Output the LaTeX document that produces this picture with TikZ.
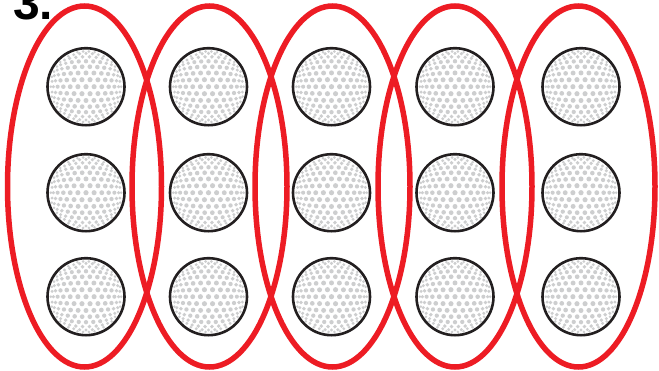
\documentclass[tikz,border=0pt]{standalone}
\usepackage{fontspec}
\setmainfont{Liberation Sans}
\definecolor{ellred}{HTML}{ED1C24}
\definecolor{balledge}{HTML}{231F20}
\definecolor{dimple}{HTML}{CDCECF}
\tikzset{
  ellipsering/.style={draw=ellred, line width=5.5pt},
  ballrim/.style={draw=balledge, line width=2.6pt},
  pics/golfball/.style={code={
    \fill[white] (0,0) circle[radius=38.5];
    \foreach \j in {-8,...,8}{
      \foreach \i in {-8,...,8}{
        \pgfmathsetmacro{\aa}{(\i+0.5*mod(abs(\j),2))*13}
        \pgfmathsetmacro{\bb}{\j*13*0.866}
        \pgfmathsetmacro{\rr}{veclen(\aa,\bb)}
        \ifdim \rr pt<84pt
          \pgfmathsetmacro{\ff}{36*sin(\rr)/max(\rr,0.001)}
          \pgfmathsetmacro{\ss}{2.6*(0.45+0.55*cos(\rr))}
          \fill[dimple] ({\aa*\ff},{\bb*\ff}) circle[radius=\ss];
        \fi
      }
    }
    \draw[ballrim] (0,0) circle[radius=38.5];
  }}
}
\begin{document}
\begin{tikzpicture}[x=1pt,y=-1pt]
  \useasboundingbox (0,0) rectangle (659,370);
  \fill[white] (0,0) rectangle (659,370);
  \foreach \cx in {86,208.5,331.5,455,581}{
    \foreach \cy in {86.7,192.7,296.7}{
      \pic at (\cx,\cy) {golfball};
    }
  }
  \draw[ellipsering] (84.5,186.5) ellipse[x radius=77, y radius=180.5];
  \draw[ellipsering] (209.5,186.5) ellipse[x radius=77.5, y radius=180.5];
  \draw[ellipsering] (332.5,186.5) ellipse[x radius=77.5, y radius=180.5];
  \draw[ellipsering] (455,186.5) ellipse[x radius=77, y radius=180.5];
  \draw[ellipsering] (578.5,186.5) ellipse[x radius=76.5, y radius=180.5];
  \node[anchor=base west, inner sep=0pt, font=\bfseries\fontsize{48}{48}\selectfont] (label) at (13,19.5) {3.};
\end{tikzpicture}
\end{document}
